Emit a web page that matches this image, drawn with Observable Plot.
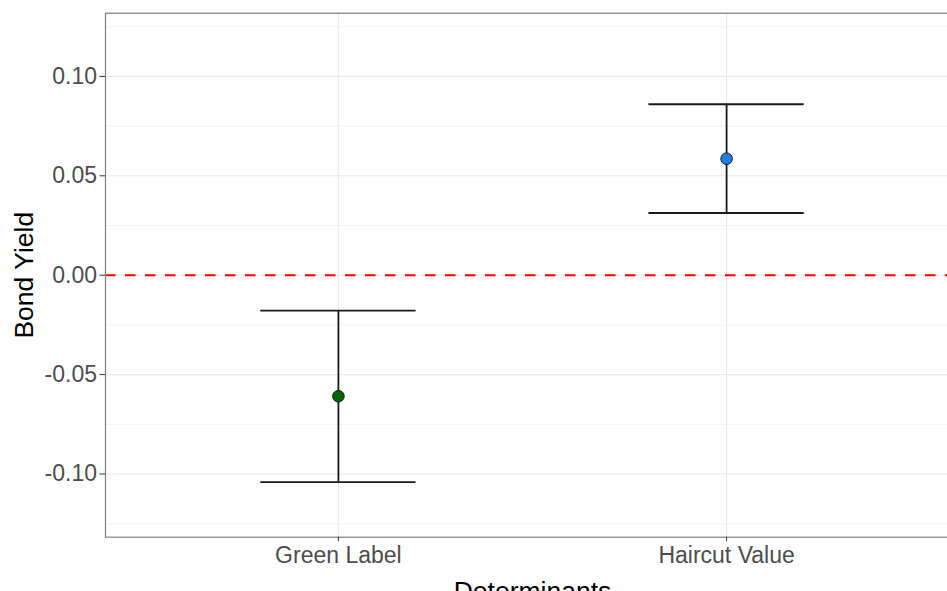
<!DOCTYPE html>
<html>
<head>
<meta charset="utf-8">
<script src="https://cdn.jsdelivr.net/npm/d3@7"></script>
<script src="https://cdn.jsdelivr.net/npm/@observablehq/plot@0.6"></script>
<style>
  html, body { margin: 0; padding: 0; background: #fff; overflow: hidden; }
  #chart svg { display: block; }
</style>
</head>
<body>
<div id="chart"></div>
<script>
// ---- data ----
const categories = ["Green Label", "Haircut Value"];
const estimates  = [-0.0609, 0.0586];
const lowers     = [-0.1041, 0.0313];
const uppers     = [-0.0178, 0.0860];
const pointFills = ["#006400", "#1E7FE3"];
const yTicks     = [-0.10, -0.05, 0.00, 0.05, 0.10];
const yMinor     = [-0.125, -0.075, -0.025, 0.025, 0.075, 0.125];
const yLimits    = [-0.1318, 0.1318];
const xLabel     = "Determinants";
const yLabel     = "Bond Yield";

const capHalf = 0.2;   // errorbar width 0.4
const rows = categories.map((c, i) => ({
  cat: c, pos: i + 1, est: estimates[i], lo: lowers[i], hi: uppers[i], fill: pointFills[i]
}));
const positions = rows.map(d => d.pos);

const font = "'Liberation Sans', Arial, Helvetica, sans-serif";

const chart = Plot.plot({
  width: 947,
  height: 591,
  marginLeft: 105,
  marginRight: -12,
  marginTop: 12.7,
  marginBottom: 54.3,
  style: { fontFamily: font, background: "#fff", overflow: "visible" },
  x: { type: "linear", domain: [0.4, categories.length + 0.6], axis: null },
  y: { type: "linear", domain: yLimits, axis: null },
  color: { type: "identity" },
  marks: [
    // minor grid
    Plot.ruleY(yMinor, { stroke: "#ebebeb", strokeWidth: 0.6 }),
    // major grid
    Plot.ruleY(yTicks, { stroke: "#ebebeb", strokeWidth: 1.1 }),
    Plot.ruleX(positions, { stroke: "#ebebeb", strokeWidth: 1.1 }),
    // zero reference line
    Plot.ruleY([0], { stroke: "#ff0000", strokeWidth: 2, strokeDasharray: "10.5,9.5" }),
    // error bars
    Plot.ruleX(rows, { x: "pos", y1: "lo", y2: "hi", stroke: "#1a1a1a", strokeWidth: 1.8 }),
    Plot.ruleY(rows, { y: "hi", x1: d => d.pos - capHalf, x2: d => d.pos + capHalf, stroke: "#1a1a1a", strokeWidth: 1.8 }),
    Plot.ruleY(rows, { y: "lo", x1: d => d.pos - capHalf, x2: d => d.pos + capHalf, stroke: "#1a1a1a", strokeWidth: 1.8 }),
    // points
    Plot.dot(rows, { x: "pos", y: "est", r: 5.8, fill: "fill", stroke: "#1a1a1a", strokeWidth: 1 }),
    // panel border
    Plot.frame({ stroke: "#7f7f7f", strokeWidth: 1.2 }),
    // axes
    Plot.axisY(yTicks, {
      tickSize: 5.5, tickPadding: 3, fontSize: 23, color: "#4d4d4d", stroke: "#333333",
      tickFormat: d => d.toFixed(2), label: null
    }),
    Plot.axisX(positions, {
      tickSize: 4.5, tickPadding: 5, fontSize: 23, color: "#4d4d4d", stroke: "#333333",
      tickFormat: d => categories[d - 1], label: null
    }),
    // axis titles
    Plot.text([yLabel], {
      text: d => d, frameAnchor: "left", rotate: -90, dx: -73,
      lineAnchor: "bottom", textAnchor: "middle", fontSize: 26.5, fill: "#000"
    }),
    Plot.text([xLabel], {
      text: d => d, frameAnchor: "bottom", dy: 63,
      lineAnchor: "bottom", textAnchor: "middle", fontSize: 26.5, fill: "#000"
    })
  ]
});

document.getElementById("chart").appendChild(chart);
</script>
</body>
</html>
